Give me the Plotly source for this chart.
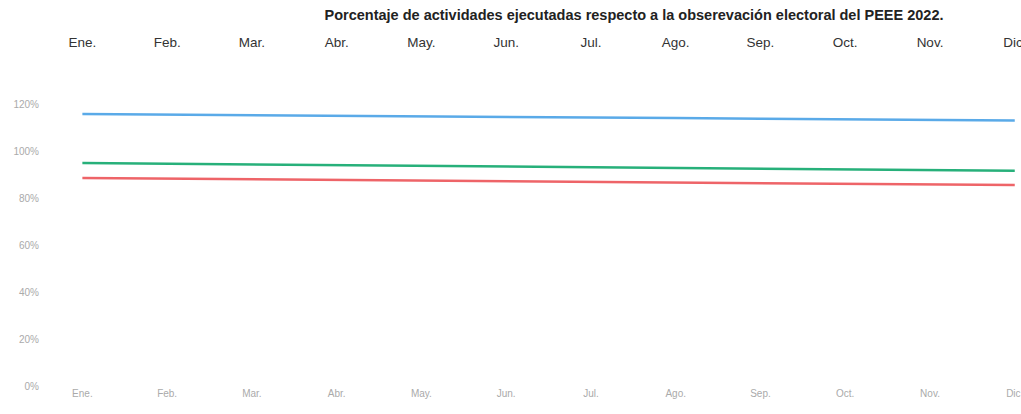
import plotly.graph_objects as go

meses = ["Ene.", "Feb.", "Mar.", "Abr.", "May.", "Jun.", "Jul.", "Ago.", "Sep.", "Oct.", "Nov.", "Dic."]
meses_top = ["Ene.", "Feb.", "Mar.", "Abr.", "May.", "Jun.", "Jul.", "Ago.", "Sep.", "Oct.", "Nov.", "Dic."]
y_ticks = [0, 20, 40, 60, 80, 100, 120]

serie_azul = [115.7, 115.5, 115.2, 115.0, 114.8, 114.5, 114.3, 114.0, 113.7, 113.5, 113.2, 113.0]
serie_verde = [94.9, 94.6, 94.3, 94.0, 93.7, 93.4, 93.1, 92.8, 92.5, 92.2, 91.9, 91.6]
serie_roja = [88.5, 88.2, 88.0, 87.7, 87.4, 87.2, 86.9, 86.6, 86.3, 86.1, 85.8, 85.5]

idx = list(range(len(meses)))

fig = go.Figure()
fig.add_scatter(x=idx, y=serie_azul, mode='lines',
                line=dict(color='#5AAAE8', width=2.5), name='a')
fig.add_scatter(x=idx, y=serie_verde, mode='lines',
                line=dict(color='#27B07A', width=2.5), name='b')
fig.add_scatter(x=idx, y=serie_roja, mode='lines',
                line=dict(color='#EE6468', width=2.5), name='c')
# traza invisible para el eje superior
fig.add_scatter(x=idx, y=[None] * len(idx), xaxis='x2', mode='lines',
                showlegend=False, hoverinfo='skip')

fig.update_layout(
    width=1021, height=414,
    margin=dict(l=40, r=2, t=57, b=28),
    paper_bgcolor='white', plot_bgcolor='white',
    showlegend=False,
    font=dict(family='Liberation Sans, Arial, sans-serif'),
    title=dict(text='<b>Porcentaje de actividades ejecutadas respecto a la obserevación electoral del PEEE 2022.</b>',
               x=634 / 1021, xanchor='center', y=1 - 15 / 414, yanchor='middle',
               font=dict(size=14.5, color='#222')),
    xaxis=dict(range=[-0.5, 11.05], tickvals=idx, ticktext=meses,
               showgrid=False, zeroline=False, showline=False, automargin=False,
               ticklabeloverflow='allow',
               tickfont=dict(size=10, color='#aaa')),
    xaxis2=dict(range=[-0.5, 11.05], tickvals=idx, ticktext=meses_top,
                overlaying='x', side='top', anchor='y', automargin=False,
                showgrid=False, zeroline=False, showline=False,
                ticklabeloverflow='allow', ticklabelstandoff=6,
                tickfont=dict(size=13.5, color='#333')),
    yaxis=dict(range=[0, 140], tickvals=y_ticks,
               ticktext=[f"{v}%" for v in y_ticks], automargin=False,
               showgrid=False, zeroline=False, showline=False,
               tickfont=dict(size=10, color='#aaa')),
)

# quitar el margen por defecto del body y la barra de herramientas
fig.write_html("out.html", config=dict(displayModeBar=False),
               post_script="document.body.style.margin='0';")
